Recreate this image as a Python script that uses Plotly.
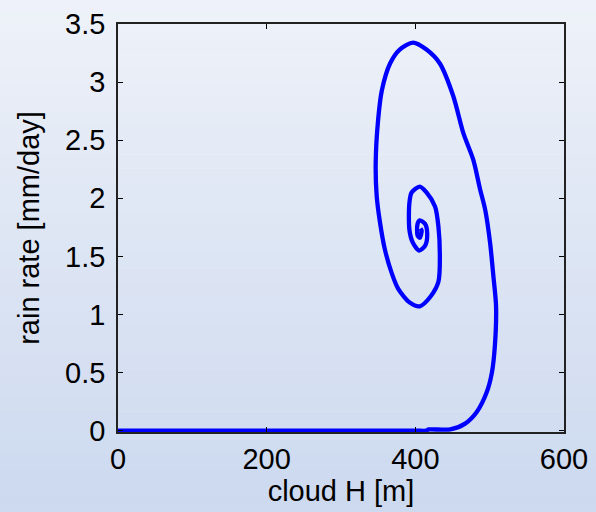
import plotly.graph_objects as go

# Trajectory: cloud height H [m] vs rain rate [mm/day]
cloud_h = [0, 100, 200, 300, 400, 415, 418, 447, 467, 482.6, 496, 503, 507, 508.6, 505,
           500.5, 494, 487, 478, 464.6, 451, 433, 415, 397, 379, 366, 355, 350, 346.7,
           348, 352.5, 359, 368, 377, 393, 406, 420, 431, 433, 431, 426.5, 415, 406, 395,
           392, 392, 396.5, 405, 413, 416, 413, 406, 403, 403, 406, 408.5, 407]
rain_rate = [0, 0, 0, 0, 0, 0, 0.01, 0.01, 0.06, 0.16, 0.33, 0.5, 0.73, 1.07, 1.33,
             1.62, 1.9, 2.08, 2.33, 2.56, 2.88, 3.16, 3.28, 3.34, 3.28, 3.16, 2.93, 2.68, 2.31,
             2.02, 1.79, 1.56, 1.36, 1.22, 1.10, 1.07, 1.15, 1.28, 1.50, 1.76, 1.93, 2.05, 2.10, 2.05,
             1.96, 1.73, 1.62, 1.55, 1.59, 1.69, 1.78, 1.81, 1.78, 1.68, 1.66, 1.72, 1.74]

x_ticks = [0, 200, 400, 600]
y_ticks = [0, 0.5, 1, 1.5, 2, 2.5, 3, 3.5]
y_tick_labels = ["0", "0.5", "1", "1.5", "2", "2.5", "3", "3.5"]

fig = go.Figure()
fig.add_trace(go.Scatter(x=cloud_h, y=rain_rate, mode="lines",
                         line=dict(color="#0000ff", width=4.3, shape="spline", smoothing=0.8),
                         showlegend=False))

# background gradient
shapes = []
n = 40
top = (239, 242, 249)
bot = (201, 215, 238)
for i in range(n):
    t = i / (n - 1)
    c = tuple(round(top[k] + (bot[k] - top[k]) * t) for k in range(3))
    shapes.append(dict(type="rect", xref="paper", yref="paper", layer="below",
                       x0=-0.3, x1=1.3, y0=1.1 - (i + 1) * (1.4 / n), y1=1.1 - i * (1.4 / n) + 0.001,
                       fillcolor="rgb(%d,%d,%d)" % c, line=dict(width=0)))

font = dict(family="Liberation Sans, Arial, Helvetica, sans-serif", size=29, color="#000")
fig.update_layout(
    width=596, height=512,
    margin=dict(l=118, r=32, t=24, b=80),
    paper_bgcolor="#dfe6f3", plot_bgcolor="#ffffff",
    font=font, shapes=shapes,
    xaxis=dict(range=[0, 600], tickvals=x_ticks, ticks="inside", ticklen=5, tickcolor="#000",
               showline=True, linecolor="#222", linewidth=1.5, mirror="allticks",
               showgrid=False, zeroline=False, automargin=False,
               title=dict(text="cloud H [m]", font=font, standoff=0)),
    yaxis=dict(range=[-0.012, 3.5], tickvals=y_ticks, ticktext=y_tick_labels, ticks="inside",
               ticklen=5, tickcolor="#000", ticklabelstandoff=5,
               showline=True, linecolor="#222", linewidth=1.5, mirror="allticks",
               showgrid=False, zeroline=False, automargin=False,
               title=dict(text="rain rate [mm/day]", font=font, standoff=17)),
)
fig.write_html("out.html", config={"displayModeBar": False},
               post_script="document.body.style.margin='0';document.body.style.overflow='hidden';")
